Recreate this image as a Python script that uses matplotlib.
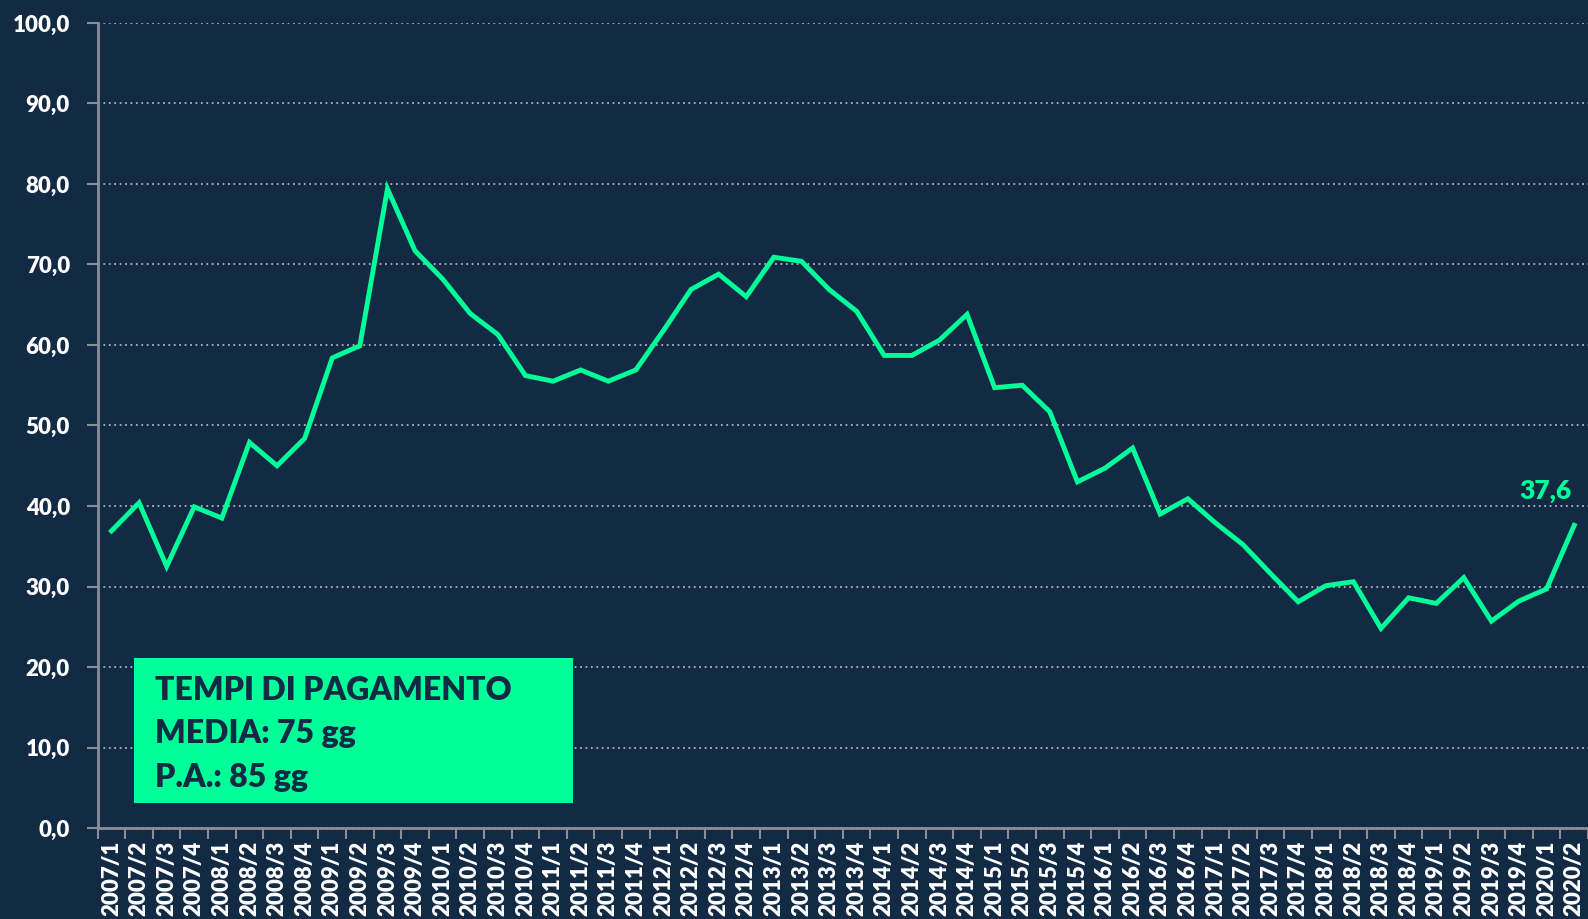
import matplotlib.pyplot as plt
from matplotlib.patches import Rectangle
from matplotlib.ticker import FixedLocator, FuncFormatter

plt.rcParams['font.family'] = ['Lato', 'DejaVu Sans']
plt.rcParams['font.weight'] = 'heavy'

# quarters 2007/1 .. 2020/2
years = list(range(2007, 2021))
quarters = [f"{y}/{q}" for y in years for q in range(1, 5)][:54]

tempi = [36.9, 40.4, 32.5, 39.9, 38.5, 47.9, 45.0, 48.4,
         58.4, 59.9, 79.4, 71.7, 68.2, 63.9, 61.3, 56.2,
         55.5, 56.9, 55.5, 56.9, 61.8, 66.9, 68.8, 66.0,
         70.9, 70.4, 66.9, 64.2, 58.7, 58.7, 60.6, 63.8,
         54.7, 55.0, 51.7, 43.0, 44.7, 47.2, 39.0, 40.9,
         37.9, 35.2, 31.6, 28.1, 30.1, 30.6, 24.8, 28.6,
         27.9, 31.1, 25.7, 28.2, 29.7, 37.6]

box_lines = ["TEMPI DI PAGAMENTO", "MEDIA: 75 gg", "P.A.: 85 gg"]

bg = '#132a45'
green = '#00ff99'
grey = '#8a8f96'

fig = plt.figure(figsize=(15.88, 9.19), dpi=100, facecolor=bg)
ax = fig.add_axes([0.0615, 0.099, 0.9385, 0.876])
ax.set_facecolor(bg)

x = list(range(len(quarters)))
ax.plot(x, tempi, color=green, lw=3.5, solid_joinstyle='miter', zorder=3)

ax.set_xlim(-0.5, len(quarters) - 0.5)
ax.set_ylim(0, 100)

ax.set_yticks(range(0, 101, 10))
ax.yaxis.set_major_formatter(FuncFormatter(lambda v, p: f"{v:.1f}".replace('.', ',')))
ax.yaxis.grid(True, color='#b0b4b8', linestyle=(0, (1, 2)), lw=1.3)
ax.set_axisbelow(True)

ax.set_xticks(x)
ax.set_xticklabels(quarters, rotation=90)
ax.xaxis.set_minor_locator(FixedLocator([i - 0.5 for i in range(len(quarters) + 1)]))
ax.tick_params(axis='x', which='major', length=0, pad=9, labelsize=16, colors='white')
ax.tick_params(axis='x', which='minor', length=8, width=1.5, color=grey)
ax.tick_params(axis='y', length=8, width=1.5, color=grey, labelsize=16, labelcolor='white', pad=12)
for lab in ax.get_xticklabels() + ax.get_yticklabels():
    lab.set_fontweight('heavy')

for s in ['top', 'right']:
    ax.spines[s].set_visible(False)
for s in ['left', 'bottom']:
    ax.spines[s].set_color(grey)
    ax.spines[s].set_linewidth(2)

ax.annotate(f"{tempi[-1]:.1f}".replace('.', ','), (x[-1], tempi[-1]),
            xytext=(-2, 16), textcoords='offset points', ha='right', va='bottom',
            color=green, fontsize=19, fontweight='heavy')

fig.patches.append(Rectangle((0.0844, 0.1262), 0.2764, 0.1578, transform=fig.transFigure,
                             facecolor=green, edgecolor='none', zorder=5))
for i, t in enumerate(box_lines):
    fig.text(0.0976, 0.249 - i * 0.0473, t, color=bg, fontsize=23, fontweight='heavy',
             va='center', ha='left', zorder=6)

fig.savefig('out.png', facecolor=bg)
